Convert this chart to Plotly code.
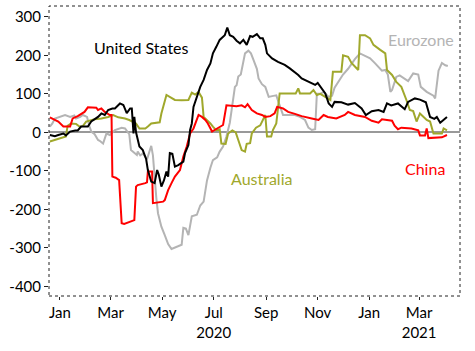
import pandas as pd
import plotly.graph_objects as go

START = pd.Timestamp("2020-01-01")

# Day offsets from 2020-01-01 and values
china_days = [-12,-2,4,12,15,21,29,33,43,45,49,53,59,61,62,66,70,73,76,88,90,92,101,103,104,109,110,122,124,128,132,136,142,146,150,154,158,164,168,172,175,180,183,189,193,197,209,215,219,222,227,233,239,243,249,254,257,264,270,278,286,298,306,312,317,327,337,341,349,361,369,377,381,393,396,400,404,416,424,426,432,434,436,452,458]
china_vals = [39,28,15,15,36,42,53,65,64,58,62,53,45,45,-115,-118,-124,-236,-238,-228,-141,-137,-132,-130,-102,-102,-184,-180,-176,-150,-132,-115,-98,-63,-37,-3,10,45,40,32,23,2,6,14,19,70,68,70,65,73,58,49,45,40,42,49,66,62,53,48,42,36,32,45,40,36,45,53,45,40,30,25,34,30,17,8,12,10,5,-8,-8,10,-15,-13,-7]

us_days = [-12,-6,-2,4,7,12,18,21,25,33,37,45,49,53,57,62,65,71,75,79,83,85,87,88,90,94,98,102,104,108,112,115,117,120,123,126,128,130,133,136,140,143,146,148,152,154,156,158,162,166,170,174,178,181,185,189,195,198,201,205,209,213,217,221,225,228,233,237,240,243,245,251,258,266,272,278,282,286,294,302,305,310,314,318,322,325,333,341,349,357,362,369,377,383,387,392,400,408,412,420,426,433,438,443,446,450,453,458]
us_vals = [-7,-10,-7,-3,-8,2,5,5,15,15,28,40,49,45,58,62,62,75,71,50,62,62,-3,40,0,-37,-46,-70,-98,-128,-132,-98,-110,-141,-125,-102,-115,-54,-56,-89,-85,-80,-76,-54,-33,6,23,66,92,118,136,162,179,205,222,240,252,272,252,248,238,231,240,227,250,248,255,244,244,227,205,192,183,175,166,157,149,140,131,123,128,114,101,75,66,79,78,72,76,62,45,55,58,53,75,70,75,60,79,88,85,78,40,35,40,25,30,40]

aus_days = [-12,1,7,9,13,19,23,27,31,41,49,57,63,69,77,82,86,90,94,101,104,108,118,120,126,130,136,144,152,156,160,164,168,170,174,178,181,185,189,191,196,199,204,208,211,215,219,221,225,227,232,237,243,245,250,252,256,260,270,279,282,284,296,300,304,308,314,320,323,333,335,341,345,353,355,361,367,371,379,385,387,393,398,404,410,414,418,422,426,434,438,442,452,454,458]
aus_vals = [-24,-16,-11,17,23,22,15,16,28,34,36,40,45,39,36,32,28,23,10,10,15,23,26,49,97,92,84,83,84,103,98,105,90,40,32,23,15,5,8,-29,-30,-3,5,0,-20,-46,-50,-30,-28,-3,12,18,45,-11,-11,6,23,101,101,101,114,101,101,110,97,100,92,84,157,157,200,196,180,162,252,252,244,227,214,205,162,149,131,118,84,58,55,28,49,32,28,-3,-3,10,5]

euro_days = [-12,-9,-6,0,6,12,17,19,24,27,32,35,37,41,45,47,51,55,59,65,69,73,77,82,84,88,91,92,95,98,103,104,108,110,112,114,116,120,124,128,132,136,140,144,146,149,152,156,162,166,170,174,178,181,186,189,193,197,201,205,207,209,211,214,217,219,223,226,229,233,235,239,243,247,251,256,260,264,272,278,284,290,294,298,302,304,308,312,318,322,325,329,335,341,349,355,359,367,373,381,385,388,391,393,398,402,412,418,424,427,434,442,444,448,452,456,459]
euro_vals = [15,23,36,40,45,40,44,36,40,45,40,15,2,-5,-20,-22,-29,-3,-7,6,10,12,10,-5,-46,-55,-59,-50,-60,-55,-70,-63,-35,-60,-120,-170,-210,-245,-267,-290,-303,-300,-297,-292,-248,-250,-267,-218,-214,-190,-180,-125,-92,-72,-65,-50,-37,-11,25,92,118,122,145,150,185,205,212,205,188,165,140,125,118,92,94,96,70,45,45,45,40,32,12,6,8,100,100,105,92,95,116,131,150,165,190,205,200,192,179,160,162,150,105,110,144,148,133,153,150,118,105,95,88,160,180,174,172]

y_tickvals = [-400, -300, -200, -100, 0, 100, 200, 300]
y_ticktext = ["-400", "-300", "-200", "-100", "0", "100", "200", "300"]
x_tickvals = ["2020-01-01", "2020-03-01", "2020-05-01", "2020-07-01", "2020-09-01",
              "2020-11-01", "2021-01-01", "2021-03-01"]
x_ticktext = ["Jan", "Mar", "May", "Jul<br>2020", "Sep", "Nov", "Jan", "Mar<br>2021"]


def to_dates(days):
    return START + pd.to_timedelta(days, unit="D")


series = [
    ("Eurozone", euro_days, euro_vals, "#b4b4b4"),
    ("Australia", aus_days, aus_vals, "#a0a82c"),
    ("China", china_days, china_vals, "#ff0000"),
    ("United States", us_days, us_vals, "#000000"),
]

fig = go.Figure()
for name, d, v, c in series:
    fig.add_trace(go.Scatter(x=to_dates(d), y=v, mode="lines", name=name,
                             line=dict(color=c, width=2)))

labels = [
    ("United States", "2020-04-06", 221, "#000000"),
    ("Eurozone", "2021-03-03", 240, "#b4b4b4"),
    ("Australia", "2020-08-26", -119, "#a0a82c"),
    ("China", "2021-03-08", -93, "#ff0000"),
]
for t, x, y, c in labels:
    fig.add_annotation(x=x, y=y, text=t, showarrow=False, xref="x", yref="y",
                       font=dict(family="Lato", size=16, color=c))

fig.add_shape(type="rect", xref="paper", yref="paper", x0=0, y0=0, x1=1, y1=1,
              line=dict(color="#222", width=1, dash="dot"), layer="above")

fig.update_layout(
    width=475, height=351,
    margin=dict(l=49, r=15, t=6, b=55),
    paper_bgcolor="white", plot_bgcolor="white",
    showlegend=False,
    font=dict(family="Lato", size=15, color="#000"),
    xaxis=dict(range=["2019-12-19", "2021-04-18 10:00"], tickvals=x_tickvals,
               ticktext=x_ticktext, showgrid=False, zeroline=False,
               ticks="outside", ticklen=3, tickcolor="#222", showline=False),
    yaxis=dict(range=[-425, 328], tickvals=y_tickvals, ticktext=y_ticktext,
               showgrid=False, zeroline=True, zerolinecolor="#999999", zerolinewidth=1.5,
               ticks="outside", ticklen=4, tickcolor="#222", showline=False),
)

fig.write_html("out.html")
